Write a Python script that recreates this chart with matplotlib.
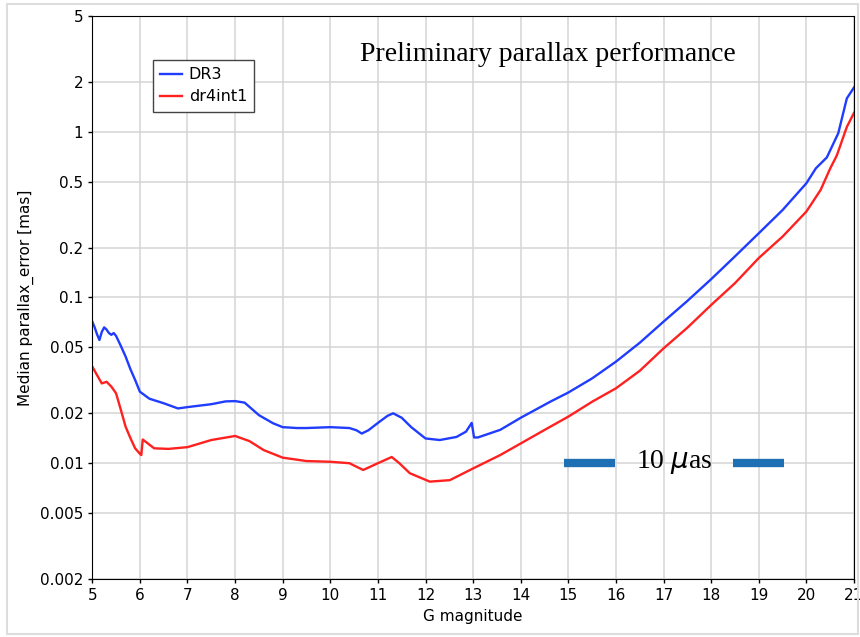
import matplotlib.pyplot as plt
from matplotlib.patches import Rectangle

# valores
mag_dr3 = [5.0, 5.05, 5.1, 5.15, 5.2, 5.25, 5.3, 5.35, 5.4, 5.45, 5.5, 5.6, 5.7, 5.8,
           5.9, 6.0, 6.2, 6.5, 6.8, 7.0, 7.5, 7.8, 8.0, 8.2, 8.5, 8.8, 9.0, 9.3, 9.5,
           10.0, 10.4, 10.55, 10.66, 10.8, 11.0, 11.2, 11.32, 11.5, 11.7, 12.0, 12.3,
           12.65, 12.85, 12.97, 13.02, 13.1, 13.57, 14.0, 14.62, 15.0, 15.5, 16.0,
           16.5, 17.0, 17.5, 18.0, 18.5, 19.0, 19.5, 20.0, 20.2, 20.43, 20.67,
           20.85, 21.0]
err_dr3 = [0.0715, 0.066, 0.06, 0.0554, 0.062, 0.066, 0.064, 0.061, 0.0595, 0.061,
           0.0586, 0.051, 0.044, 0.037, 0.0318, 0.027, 0.0245, 0.0230, 0.0214, 0.0218,
           0.0227, 0.0236, 0.0237, 0.0232, 0.0195, 0.0174, 0.0165, 0.0163, 0.0163,
           0.0165, 0.0163, 0.0158, 0.0151, 0.0158, 0.0175, 0.0193, 0.020, 0.0188,
           0.0165, 0.0141, 0.0138, 0.0144, 0.0155, 0.0175, 0.0143, 0.0143, 0.0159,
           0.0188, 0.0235, 0.0267, 0.0325, 0.041, 0.0533, 0.0715, 0.0953, 0.129,
           0.177, 0.244, 0.337, 0.489, 0.602, 0.70, 0.98, 1.59, 1.85]

mag_dr4 = [5.0, 5.1, 5.2, 5.3, 5.4, 5.5, 5.6, 5.7, 5.8, 5.9, 6.0, 6.03, 6.06, 6.3,
           6.6, 7.0, 7.5, 8.0, 8.3, 8.6, 9.0, 9.3, 9.5, 10.0, 10.4, 10.69, 11.0,
           11.29, 11.45, 11.67, 12.09, 12.51, 13.0, 13.57, 14.62, 15.0, 15.5, 16.0,
           16.5, 17.0, 17.5, 18.0, 18.5, 19.0, 19.5, 20.0, 20.3, 20.5, 20.64, 20.85,
           21.0]
err_dr4 = [0.0383, 0.034, 0.0303, 0.031, 0.029, 0.0264, 0.021, 0.0166, 0.0142,
           0.0123, 0.0114, 0.0112, 0.0139, 0.0123, 0.0122, 0.0125, 0.0138, 0.0146,
           0.0136, 0.0120, 0.0108, 0.0105, 0.0103, 0.0102, 0.0100, 0.0091, 0.0100,
           0.0109, 0.0100, 0.0087, 0.00774, 0.0079, 0.0093, 0.0112, 0.0166, 0.0191,
           0.0235, 0.0283, 0.0361, 0.0493, 0.0657, 0.0901, 0.122, 0.173, 0.233,
           0.330, 0.446, 0.60, 0.72, 1.07, 1.30]

yticks = [0.002, 0.005, 0.01, 0.02, 0.05, 0.1, 0.2, 0.5, 1, 2, 5]
ytick_labels = ['0.002', '0.005', '0.01', '0.02', '0.05', '0.1', '0.2', '0.5', '1', '2', '5']

fig = plt.figure(figsize=(8.6, 6.37), dpi=100)
fig.patches.append(Rectangle((0.008, 0.004), 0.99, 0.99, transform=fig.transFigure,
                             fill=False, edgecolor='#dddddd', linewidth=1.5))
ax = fig.add_axes([0.1073, 0.091, 0.8857, 0.884])

ax.plot(mag_dr3, err_dr3, color='#1f3cff', linewidth=1.7, label='DR3')
ax.plot(mag_dr4, err_dr4, color='#ff2020', linewidth=1.7, label='dr4int1')

ax.set_yscale('log')
ax.set_xlim(5, 21)
ax.set_ylim(0.002, 5)
ax.set_xticks(range(5, 22))
ax.set_yticks(yticks)
ax.set_yticklabels(ytick_labels)
ax.minorticks_off()
ax.tick_params(labelsize=11, length=3, width=1, color='black')
ax.grid(True, color='#d5d5d5', linewidth=1.1)
ax.set_axisbelow(True)

ax.set_xlabel('G magnitude', fontsize=11)
ax.set_ylabel('Median parallax_error [mas]', fontsize=11)

leg = ax.legend(loc='upper left', bbox_to_anchor=(0.069, 0.936), fontsize=11.5,
                handlelength=1.4, handletextpad=0.4, borderpad=0.45,
                labelspacing=0.45, fancybox=False, framealpha=1)
leg.get_frame().set_edgecolor('#444444')

ax.text(0.598, 0.931, 'Preliminary parallax performance', transform=ax.transAxes,
        ha='center', va='center', fontsize=20, family='Liberation Serif')

# barra de escala de 10 microarcsegundos
ax.plot([14.9, 15.97], [0.01, 0.01], color='#1f6fb4', linewidth=6, solid_capstyle='butt')
ax.plot([18.45, 19.52], [0.01, 0.01], color='#1f6fb4', linewidth=6, solid_capstyle='butt')
ax.text(17.22, 0.0101, r'10 $\mu$as', ha='center', va='center', fontsize=20,
        family='Liberation Serif')

fig.savefig('out.png', dpi=100)
